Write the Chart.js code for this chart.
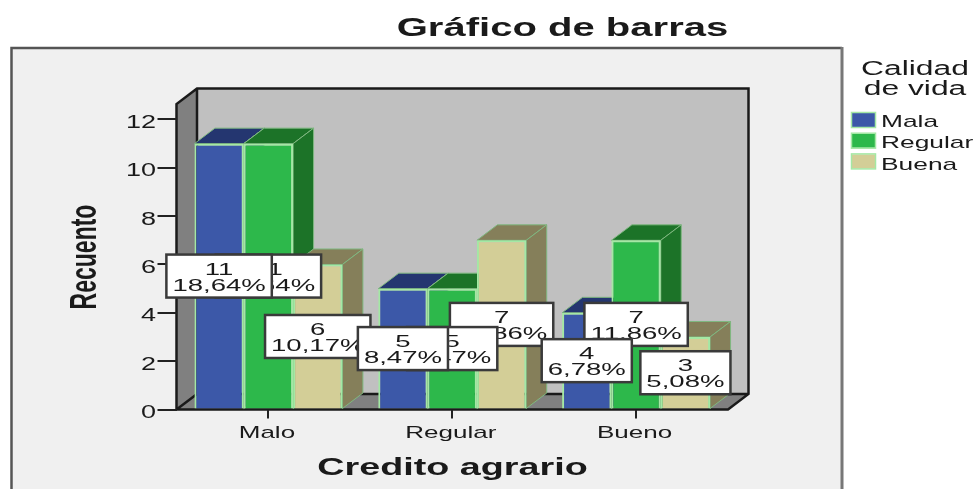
<!DOCTYPE html>
<html><head><meta charset="utf-8">
<style>html,body{margin:0;padding:0;background:#fff;overflow:hidden}canvas{display:block;filter:blur(.6px)}</style>
<script src="https://cdn.jsdelivr.net/npm/chart.js@4"></script></head>
<body><canvas id="c" width="976" height="489"></canvas>
<script>
const chartTitle = 'Gráfico de barras';
const xTitle = 'Credito agrario';
const yTitle = 'Recuento';
const legendTitle = ['Calidad', 'de vida'];
const categories = ['Malo', 'Regular', 'Bueno'];
const seriesNames = ['Mala', 'Regular', 'Buena'];
const valuesMala = [11, 5, 4];
const valuesRegular = [11, 5, 7];
const valuesBuena = [6, 7, 3];
const percentMala = ['18,64%', '8,47%', '6,78%'];
const percentRegular = ['18,64%', '8,47%', '11,86%'];
const percentBuena = ['10,17%', '11,86%', '5,08%'];
const frontColors = ['#3c58a8', '#2db84b', '#d3ce97'];
const topColors = ['#243670', '#1c7328', '#857f5a'];
const edgeColor = '#a4e8a4';
const depthEdge = '#7fb880';
const percents = [percentMala, percentRegular, percentBuena];
const DX = 20.5, DY = -15.5, INK = '#1a1a1a', FONT = '"Liberation Sans", Arial, sans-serif';

function stretched(ctx, str, x, y, font, sx, align) {
  ctx.save();
  ctx.translate(x, y);
  ctx.scale(sx, 1);
  ctx.font = font + ' ' + FONT;
  ctx.textAlign = align || 'center';
  ctx.textBaseline = 'alphabetic';
  ctx.fillStyle = INK;
  ctx.fillText(str, 0, 0);
  ctx.restore();
}
function poly(ctx, pts, fill, stroke, lw) {
  ctx.beginPath();
  pts.forEach((p, i) => i ? ctx.lineTo(p[0], p[1]) : ctx.moveTo(p[0], p[1]));
  ctx.closePath();
  if (fill) { ctx.fillStyle = fill; ctx.fill(); }
  if (stroke) { ctx.strokeStyle = stroke; ctx.lineWidth = lw || 1; ctx.stroke(); }
}

const scene = {
  id: 'scene',
  beforeDraw(chart) {
    const ctx = chart.ctx, a = chart.chartArea;
    ctx.save();
    ctx.fillStyle = '#f0f0f0';
    ctx.fillRect(12, 48, 829, 445);
    ctx.strokeStyle = '#555'; ctx.lineWidth = 2.5;
    ctx.beginPath(); ctx.moveTo(11.5, 495); ctx.lineTo(11.5, 48); ctx.lineTo(842, 48); ctx.stroke();
    ctx.strokeStyle = '#777'; ctx.lineWidth = 3;
    ctx.beginPath(); ctx.moveTo(842, 47); ctx.lineTo(842, 495); ctx.stroke();
    const L = a.left, R = a.right, T = a.top, B = a.bottom;
    poly(ctx, [[L + DX, T + DY], [R + DX, T + DY], [R + DX, B + DY], [L + DX, B + DY]], '#c0c0c0');
    poly(ctx, [[L, T], [L + DX, T + DY], [L + DX, B + DY], [L, B]], '#808080');
    poly(ctx, [[L, B], [L + DX, B + DY], [R + DX, B + DY], [R, B]], '#808080');
    ctx.strokeStyle = '#1a1a1a'; ctx.lineWidth = 2.5;
    ctx.beginPath();
    ctx.moveTo(L, B); ctx.lineTo(L, T); ctx.lineTo(L + DX, T + DY); ctx.lineTo(R + DX, T + DY); ctx.lineTo(R + DX, B + DY);
    ctx.lineTo(R, B); ctx.lineTo(L, B); ctx.lineTo(L + DX, B + DY); ctx.lineTo(R + DX, B + DY);
    ctx.moveTo(L + DX, T + DY); ctx.lineTo(L + DX, B + DY);
    ctx.stroke();
    ctx.restore();
  },
  beforeDatasetsDraw(chart) {
    const ctx = chart.ctx;
    ctx.save();
    categories.forEach((_, i) => {
      chart.data.datasets.forEach((ds, d) => {
        const b = chart.getDatasetMeta(d).data[i], l = b.x - b.width / 2, r = b.x + b.width / 2;
        poly(ctx, [[l, b.y], [l + DX, b.y + DY], [r + DX, b.y + DY], [r, b.y]], topColors[d], depthEdge, 1);
        poly(ctx, [[r, b.y], [r + DX, b.y + DY], [r + DX, b.base + DY], [r, b.base]], topColors[d], depthEdge, 1);
      });
    });
    ctx.restore();
  },
  afterDraw(chart) {
    const ctx = chart.ctx;
    const sx = chart.scales.x, sy = chart.scales.y;
    sx.ticks.forEach((t, i) => stretched(ctx, categories[i], sx.getPixelForTick(i) - 1.5, 438, '17px', 1.53));
    sy.ticks.forEach((t, i) => stretched(ctx, String(t.value), 156, sy.getPixelForTick(i) + 8.5, '18px', 1.5, 'right'));
    categories.forEach((_, i) => {
      [2, 1, 0].forEach(d => {
        const b = chart.getDatasetMeta(d).data[i], ds = chart.data.datasets[d];
        const cy = (b.y + b.base) / 2, pct = percents[d][i], fs = 17, k = 1.62;
        ctx.save();
        ctx.font = fs + 'px ' + FONT;
        const w = ctx.measureText(pct).width * k + 12;
        ctx.fillStyle = '#fff'; ctx.fillRect(b.x - w / 2, cy - 21.5, w, 43);
        ctx.strokeStyle = '#3a3a3a'; ctx.lineWidth = 2.5; ctx.strokeRect(b.x - w / 2, cy - 21.5, w, 43);
        ctx.restore();
        stretched(ctx, String(ds.data[i]), b.x, cy - 1.5, fs + 'px', k);
        stretched(ctx, pct, b.x, cy + 14.5, fs + 'px', k);
      });
    });
    stretched(ctx, chartTitle, 562.5, 36, 'bold 26px', 1.54);
    stretched(ctx, xTitle, 452.5, 475, 'bold 23px', 1.64);
    ctx.save();
    ctx.translate(95.5, 257); ctx.rotate(-Math.PI / 2); ctx.scale(1, 1.6);
    ctx.font = 'bold 23px ' + FONT; ctx.textAlign = 'center'; ctx.fillStyle = INK;
    ctx.fillText(yTitle, 0, 0);
    ctx.restore();
    stretched(ctx, legendTitle[0], 915, 75, '20px', 1.59);
    stretched(ctx, legendTitle[1], 915, 95, '20px', 1.59);
    seriesNames.forEach((n, i) => {
      const y = 113 + i * 20.7;
      ctx.save();
      ctx.fillStyle = frontColors[i]; ctx.fillRect(852, y, 23, 14);
      ctx.strokeStyle = edgeColor; ctx.lineWidth = 1.5; ctx.strokeRect(851.5, y - .5, 24, 15);
      ctx.restore();
      stretched(ctx, n, 881, 127 + i * 21.3, '17px', 1.55, 'left');
    });
  }
};

new Chart(document.getElementById('c'), {
  type: 'bar',
  data: {
    labels: categories,
    datasets: [valuesMala, valuesRegular, valuesBuena].map((v, i) => ({
      label: seriesNames[i], data: v,
      backgroundColor: frontColors[i], borderColor: edgeColor, borderWidth: 2,
      categoryPercentage: 0.805, barPercentage: 1
    }))
  },
  options: {
    responsive: false, animation: false, devicePixelRatio: 1,
    events: [],
    layout: { padding: { top: 104, right: 248, left: 0, bottom: 0 } },
    plugins: { legend: { display: false }, title: { display: false }, tooltip: { enabled: false } },
    scales: {
      x: {
        afterFit(s) { s.height = 79.5; },
        ticks: { display: false },
        border: { display: false },
        grid: { offset: false, drawOnChartArea: false, drawTicks: true, tickLength: 9, color: '#222', lineWidth: 2 }
      },
      y: {
        min: 0, max: 12.64,
        afterFit(s) { s.width = 176.5; },
        ticks: { display: false, stepSize: 2, includeBounds: false },
        border: { display: false },
        grid: { drawOnChartArea: false, drawTicks: true, tickLength: 19, color: '#222', lineWidth: 2 }
      }
    }
  },
  plugins: [scene]
});
</script></body></html>
